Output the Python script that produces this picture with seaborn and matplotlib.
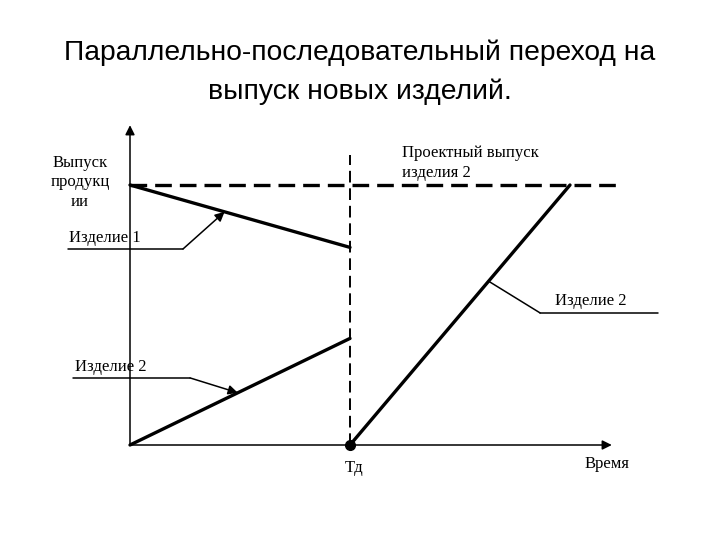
import numpy as np
import pandas as pd
import matplotlib
matplotlib.use("Agg")
import matplotlib.pyplot as plt
import seaborn as sns

sns.set_style("white")
plt.rcParams['font.family'] = ['Liberation Serif', 'DejaVu Serif']
plt.rcParams['text.color'] = 'black'

# Данные схемы (условные единицы: время / выпуск)
td = 10.0                 # момент Тд
project_level = 10.0      # проектный выпуск изделия 2
t_full = 20.0             # выход изделия 2 на проектный выпуск
product1_t = [0.0, td]
product1_q = [10.0, 7.6]
product2_before_t = [0.0, td]
product2_before_q = [0.0, 4.1]
product2_after_t = [td, t_full]
product2_after_q = [0.0, project_level]

x_axis_end = 21.9
y_axis_end = 12.3
project_line_end = 22.3
vline_top = 11.15

df = pd.concat([
    pd.DataFrame({'t': product1_t, 'q': product1_q, 's': 'Изделие 1'}),
    pd.DataFrame({'t': product2_before_t, 'q': product2_before_q, 's': 'Изделие 2 (до)'}),
    pd.DataFrame({'t': product2_after_t, 'q': product2_after_q, 's': 'Изделие 2 (после)'}),
])

fig = plt.figure(figsize=(7.2, 5.4), dpi=100)
ax = fig.add_axes([0, 0, 1, 1])
ax.set_xlim(-130 / 22, 590 / 22)
ax.set_ylim(-95 / 26, 445 / 26)
ax.axis('off')

# Оси со стрелками
ax.annotate('', xy=(x_axis_end, 0), xytext=(0, 0),
            arrowprops=dict(arrowstyle='-|>', color='black', lw=1.1,
                            mutation_scale=14, shrinkA=0, shrinkB=0))
ax.annotate('', xy=(0, y_axis_end), xytext=(0, 0),
            arrowprops=dict(arrowstyle='-|>', color='black', lw=1.1,
                            mutation_scale=14, shrinkA=0, shrinkB=0))

# Линии изделий
sns.lineplot(data=df, x='t', y='q', units='s', estimator=None, color='black',
             linewidth=2.4, ax=ax, legend=False, sort=False)

# Проектный выпуск и момент Тд
ax.plot([0, project_line_end], [project_level, project_level], color='black',
        lw=2.4, dashes=(5, 2.4))
ax.plot([td, td], [0, vline_top], color='black', lw=1.4, dashes=(6, 3))
ax.plot([td], [0], 'o', color='black', ms=7)

# Выноски к подписям
def leader(x0, x1, y, tip_t, series_t, series_q, arrow=True):
    tip = (tip_t, np.interp(tip_t, series_t, series_q))
    ax.plot([x0, x1], [y, y], color='black', lw=1.1)
    if arrow:
        ax.annotate('', xy=tip, xytext=(x1, y),
                    arrowprops=dict(arrowstyle='-|>', color='black', lw=1.1,
                                    mutation_scale=14, shrinkA=0, shrinkB=0))
    else:
        ax.plot([x1, tip[0]], [y, tip[1]], color='black', lw=1.1)

leader(-2.82, 2.41, 7.54, 4.3, product1_t, product1_q)
leader(-2.59, 2.73, 2.58, 4.9, product2_before_t, product2_before_q)
leader(24.0, 18.64, 5.08, 16.3, product2_after_t, product2_after_q, arrow=False)

fs = 12
ax.text(-2.77, 7.95, 'Изделие 1', fontsize=fs, va='center', ha='left')
ax.text(-2.5, 3.0, 'Изделие 2', fontsize=fs, va='center', ha='left')
ax.text(19.3, 5.55, 'Изделие 2', fontsize=fs, va='center', ha='left')
ax.text(-2.27, 10.1, 'Выпуск\nпродукц\nии', fontsize=fs, va='center', ha='center',
        linespacing=1.3)
ax.text(12.35, 10.85, 'Проектный выпуск\nизделия 2', fontsize=fs, va='center', ha='left',
        linespacing=1.3)
ax.text(td + 0.2, -0.9, 'Тд', fontsize=fs, va='center', ha='center')
ax.text(21.7, -0.75, 'Время', fontsize=fs, va='center', ha='center')

# Заголовок
title_font = ['Liberation Sans', 'DejaVu Sans']
fig.text(0.5, 1 - 53 / 540, 'Параллельно-последовательный переход на', fontsize=20.3,
         ha='center', va='center', family=title_font, color='black')
fig.text(0.5, 1 - 92 / 540, 'выпуск новых изделий.', fontsize=20.3,
         ha='center', va='center', family=title_font, color='black')

fig.savefig('out.png', dpi=100)
